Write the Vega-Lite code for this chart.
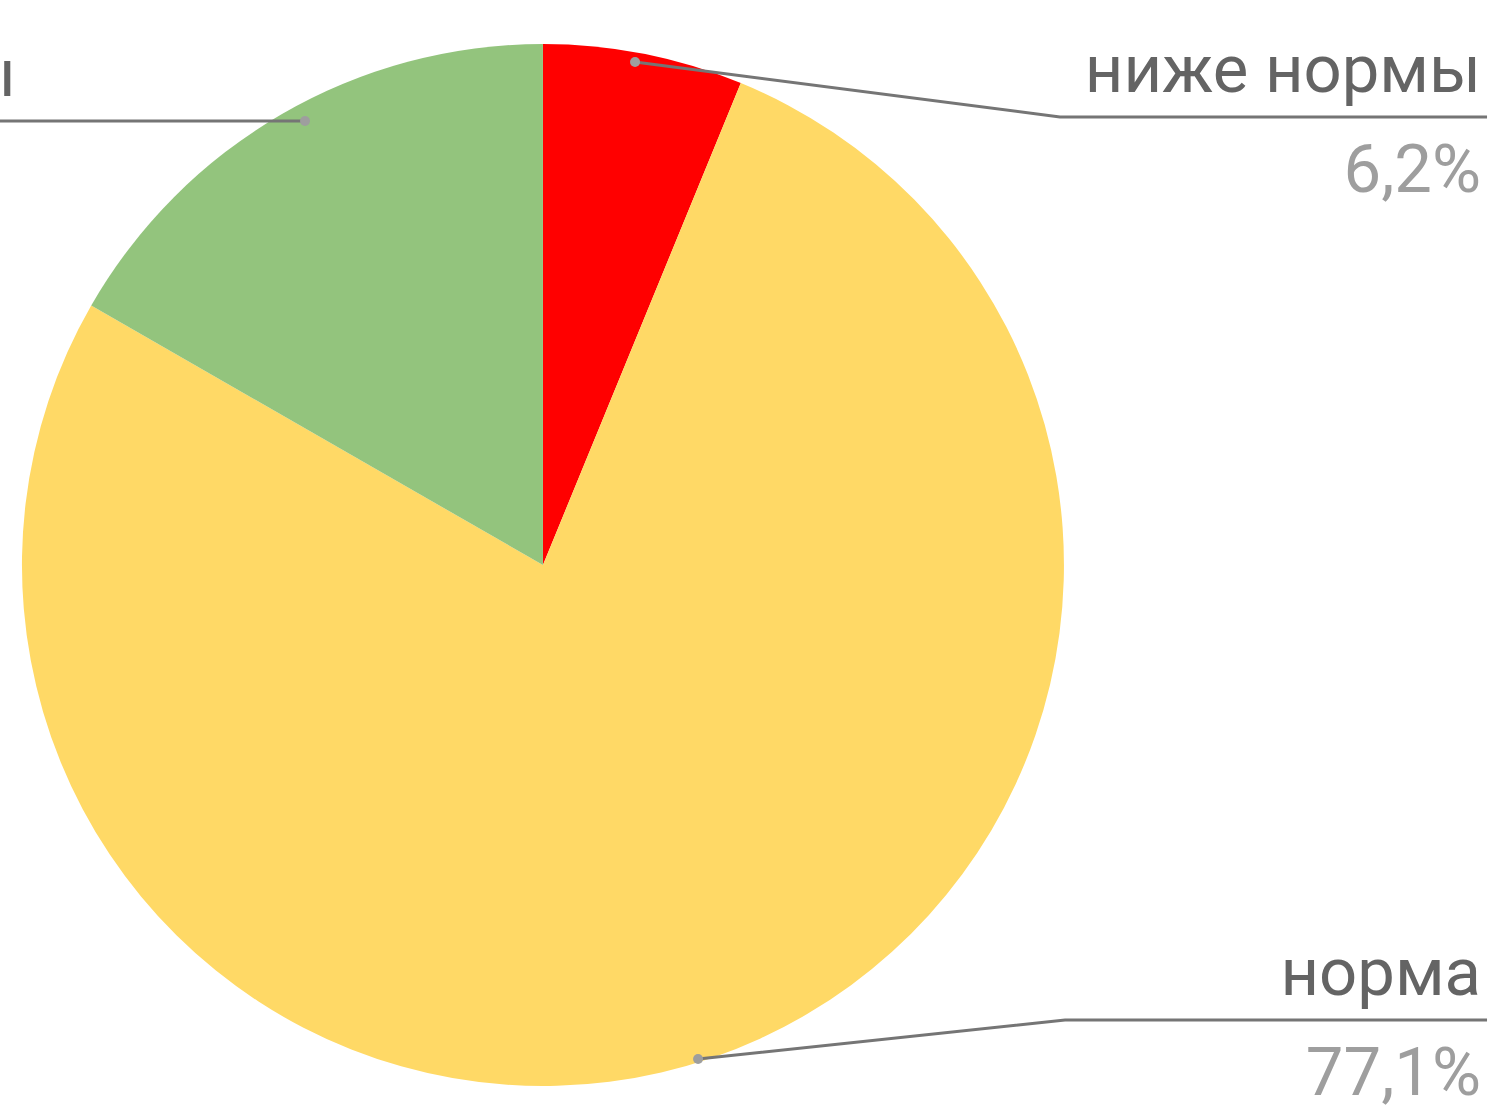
{
  "$schema": "https://vega.github.io/schema/vega-lite/v6.json",
  "width": 1490,
  "height": 1109,
  "padding": 0,
  "autosize": {"type": "none"},
  "background": "white",
  "config": {"view": {"stroke": null}},
  "datasets": {
    "slices": [
      {"category": "ниже нормы", "share": 6.2, "idx": 1},
      {"category": "норма", "share": 77.1, "idx": 2},
      {"category": "выше нормы", "share": 16.7, "idx": 3}
    ],
    "leaders": [
      {"category": "ниже нормы", "step": 1, "x": 42.62, "y": 5.59},
      {"category": "ниже нормы", "step": 2, "x": 71.14, "y": 10.55},
      {"category": "ниже нормы", "step": 3, "x": 99.8, "y": 10.55},
      {"category": "норма", "step": 1, "x": 46.85, "y": 95.49},
      {"category": "норма", "step": 2, "x": 71.48, "y": 91.97},
      {"category": "норма", "step": 3, "x": 99.8, "y": 91.97},
      {"category": "выше нормы", "step": 1, "x": 20.47, "y": 10.91},
      {"category": "выше нормы", "step": 2, "x": -26.85, "y": 10.91}
    ],
    "labels": [
      {"category": "ниже нормы", "name": "ниже нормы", "pct": "6,2%", "side": "right", "x": 99.4, "yName": 8.3, "yPct": 17.31},
      {"category": "норма", "name": "норма", "pct": "77,1%", "side": "right", "x": 99.4, "yName": 89.72, "yPct": 98.74},
      {"category": "выше нормы", "name": "выше нормы", "pct": "16,7%", "side": "left", "x": 1.1, "yName": 8.66, "yPct": 17.67}
    ]
  },
  "layer": [
    {
      "data": {"name": "slices"},
      "mark": {"type": "arc", "outerRadius": 521, "strokeWidth": 0},
      "encoding": {
        "theta": {"field": "share", "type": "quantitative", "stack": true},
        "order": {"field": "idx", "type": "quantitative"},
        "color": {"field": "category", "type": "nominal", "scale": {"domain": ["ниже нормы", "норма", "выше нормы"], "range": ["#ff0000", "#ffd966", "#93c47d"]}, "legend": null},
        "x": {"datum": 36.44, "type": "quantitative", "scale": {"domain": [0, 100], "nice": false}, "axis": null},
        "y": {"datum": 50.95, "type": "quantitative", "scale": {"domain": [0, 100], "nice": false, "reverse": true}, "axis": null}
      }
    },
    {
      "data": {"name": "leaders"},
      "mark": {"type": "line", "color": "#757575", "strokeWidth": 3},
      "encoding": {
        "x": {"field": "x", "type": "quantitative"},
        "y": {"field": "y", "type": "quantitative"},
        "detail": {"field": "category"},
        "order": {"field": "step", "type": "quantitative"}
      }
    },
    {
      "data": {"name": "leaders"},
      "transform": [{"filter": "datum.step == 1"}],
      "mark": {"type": "point", "filled": true, "color": "#9e9e9e", "opacity": 1, "size": 100},
      "encoding": {
        "x": {"field": "x", "type": "quantitative"},
        "y": {"field": "y", "type": "quantitative"}
      }
    },
    {
      "data": {"name": "labels"},
      "mark": {"type": "text", "align": "right", "baseline": "alphabetic", "font": "Roboto", "fontSize": 67, "color": "#646464"},
      "encoding": {
        "x": {"field": "x", "type": "quantitative"},
        "y": {"field": "yName", "type": "quantitative"},
        "text": {"field": "name"}
      }
    },
    {
      "data": {"name": "labels"},
      "transform": [{"filter": "datum.side == 'right'"}],
      "mark": {"type": "text", "align": "right", "baseline": "alphabetic", "font": "Roboto", "fontSize": 67, "color": "#9e9e9e"},
      "encoding": {
        "x": {"field": "x", "type": "quantitative"},
        "y": {"field": "yPct", "type": "quantitative"},
        "text": {"field": "pct"}
      }
    },
    {
      "data": {"name": "labels"},
      "transform": [{"filter": "datum.side == 'left'"}],
      "mark": {"type": "text", "align": "left", "baseline": "alphabetic", "font": "Roboto", "fontSize": 67, "color": "#9e9e9e", "dx": -410},
      "encoding": {
        "x": {"field": "x", "type": "quantitative"},
        "y": {"field": "yPct", "type": "quantitative"},
        "text": {"field": "pct"}
      }
    }
  ]
}
